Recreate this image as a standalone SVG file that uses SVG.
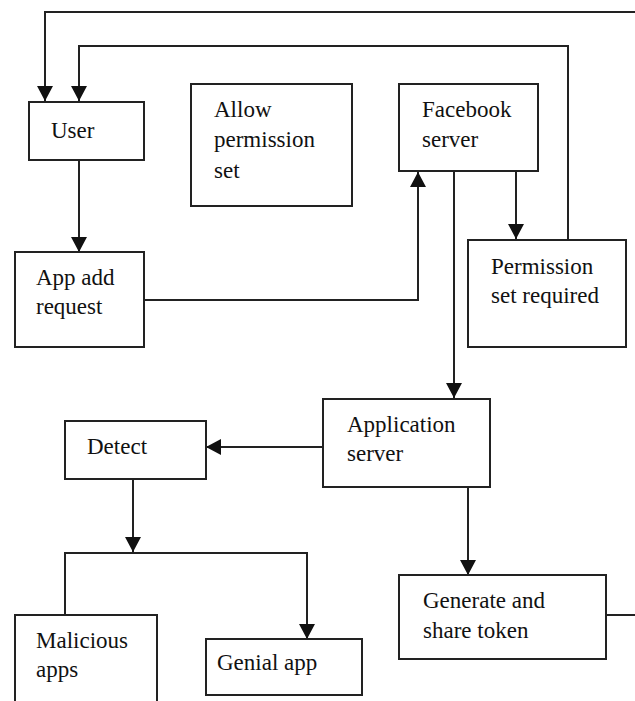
<svg xmlns="http://www.w3.org/2000/svg" width="635" height="701" viewBox="0 0 635 701">
<style>
.box{fill:#fff;stroke:#222;stroke-width:2}
.lbl{font-size:23px;fill:#111}
.ln{fill:none;stroke:#222;stroke-width:2}
</style>
<defs>
<marker id="ah" markerUnits="userSpaceOnUse" markerWidth="16" markerHeight="16" viewBox="0 0 16 16" refX="15" refY="8" orient="auto">
<path d="M0,0 L15,8 L0,16 Z" fill="#111"/>
</marker>
</defs>
<rect width="635" height="701" fill="#fff"/>
<g id="connectors">
<path class="ln" d="M635,12 H45 V101" marker-end="url(#ah)"/>
<path class="ln" d="M568,240 V46 H79 V101" marker-end="url(#ah)"/>
<path class="ln" d="M79,160 V252" marker-end="url(#ah)"/>
<path class="ln" d="M144,300 H418 V172" marker-end="url(#ah)"/>
<path class="ln" d="M516,171 V239" marker-end="url(#ah)"/>
<path class="ln" d="M454,171 V398" marker-end="url(#ah)"/>
<path class="ln" d="M323,447 H206" marker-end="url(#ah)"/>
<path class="ln" d="M133,479 V552" marker-end="url(#ah)"/>
<path class="ln" d="M65,615 V553 H307 V639" marker-end="url(#ah)"/>
<path class="ln" d="M468,487 V575" marker-end="url(#ah)"/>
<path class="ln" d="M606,615 H635"/>
</g>
<g font-family="'Liberation Serif', 'DejaVu Serif', serif">
<g id="user"><rect class="box" x="29" y="102" width="115" height="58"/><text class="lbl" x="51" y="138">User</text></g>
<g id="allow"><rect class="box" x="191" y="84" width="161" height="122"/><text class="lbl" x="214" y="117">Allow</text><text class="lbl" x="214" y="147">permission</text><text class="lbl" x="214" y="178">set</text></g>
<g id="facebook"><rect class="box" x="399" y="84" width="139" height="87"/><text class="lbl" x="422" y="117">Facebook</text><text class="lbl" x="422" y="147">server</text></g>
<g id="permission"><rect class="box" x="468" y="240" width="158" height="107"/><text class="lbl" x="491" y="274">Permission</text><text class="lbl" x="491" y="303">set required</text></g>
<g id="appadd"><rect class="box" x="15" y="252" width="129" height="95"/><text class="lbl" x="36" y="285">App add</text><text class="lbl" x="36" y="314">request</text></g>
<g id="appserver"><rect class="box" x="323" y="399" width="167" height="88"/><text class="lbl" x="347" y="432">Application</text><text class="lbl" x="347" y="461">server</text></g>
<g id="detect"><rect class="box" x="65" y="421" width="141" height="58"/><text class="lbl" x="87" y="454">Detect</text></g>
<g id="malicious"><rect class="box" x="15" y="615" width="142" height="100"/><text class="lbl" x="36" y="648">Malicious</text><text class="lbl" x="36" y="677">apps</text></g>
<g id="genial"><rect class="box" x="206" y="639" width="156" height="56"/><text class="lbl" x="217" y="670">Genial app</text></g>
<g id="generate"><rect class="box" x="399" y="575" width="207" height="84"/><text class="lbl" x="423" y="608">Generate and</text><text class="lbl" x="423" y="638">share token</text></g>
</g>
</svg>
